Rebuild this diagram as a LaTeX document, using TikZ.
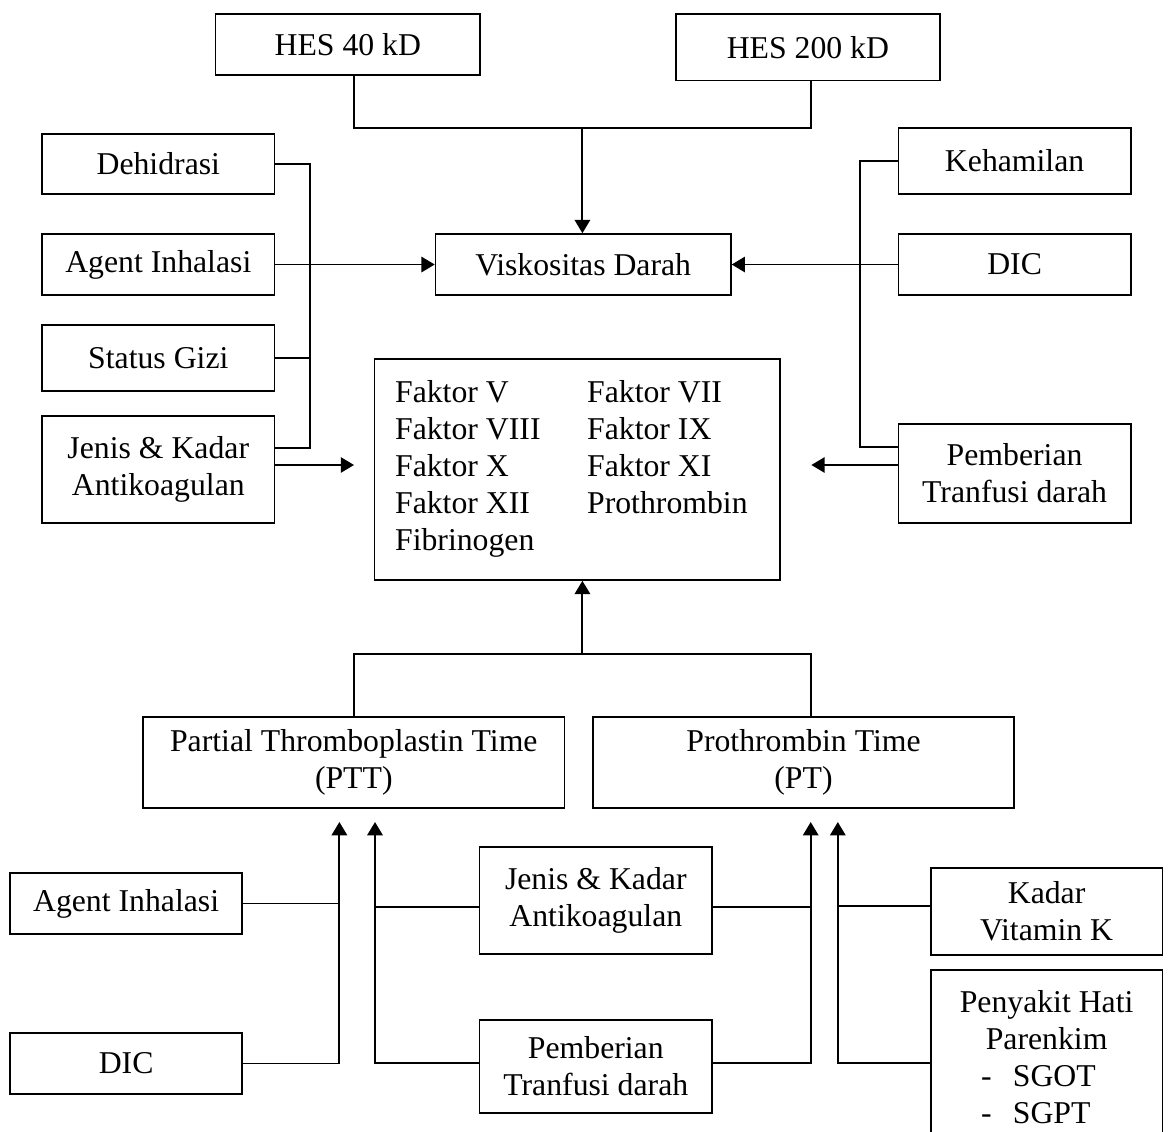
\documentclass[tikz,border=0pt]{standalone}
\usepackage{fontspec}
\setmainfont{Liberation Serif}
\usetikzlibrary{arrows.meta,calc}

\begin{document}
\begin{tikzpicture}
  [x=0.378pt, y=-0.378pt,
   boxN/.style={draw, line width=0.6pt, inner sep=0pt, align=center,
     font=\fontsize{12}{14}\selectfont},
   sz/.style 2 args={minimum width=#1*0.378pt, minimum height=#2*0.378pt},
   conn/.style={line width=0.7pt},
   arr/.style={conn, -{Triangle[length=5pt,width=5.8pt]}}]

  \useasboundingbox (0,0) rectangle (1170,1131);
  \clip (0,0) rectangle (1170,1131);

  % upper part
  \node[boxN,sz={264.8}{60.7}] (hes40)  at (347.8,44.4) {HES 40 kD};
  \node[boxN,sz={263.7}{66.3}] (hes200) at (807.9,47.2) {HES 200 kD};

  \node[boxN,sz={232.3}{60}]  (dehid)  at (158.3,164)   {Dehidrasi};
  \node[boxN,sz={232.3}{61}]  (agent)  at (158.3,264.5) {Agent Inhalasi};
  \node[boxN,sz={232.3}{66}]  (gizi)   at (158.3,358)   {Status Gizi};
  \node[boxN,sz={232.3}{107}] (jenis)  at (158.3,469.5) {Jenis \& Kadar\\Antikoagulan};

  \node[boxN,sz={295.4}{61}]  (visk)   at (583.2,264.5) {Viskositas Darah};

  \node[boxN,sz={232.6}{66}]  (hamil)  at (1014.6,161)   {Kehamilan};
  \node[boxN,sz={232.6}{61}]  (dicR)   at (1014.6,264.5) {DIC};
  \node[boxN,sz={232.6}{99}]  (pembR)  at (1014.6,473.5) {Pemberian\\Tranfusi darah};

  \node[boxN,sz={405.2}{221}] (faktor) at (577.2,469.5)
    {\begin{tabular}{@{}p{72.6pt}@{}l@{\hspace{4.4pt}}}
       Faktor V    & Faktor VII\\
       Faktor VIII & Faktor IX\\
       Faktor X    & Faktor XI\\
       Faktor XII  & Prothrombin\\
       Fibrinogen  &
     \end{tabular}};

  % lower part
  \node[boxN,sz={421.3}{91}]  (ptt)    at (353.8,762.5) {Partial Thromboplastin Time\\(PTT)};
  \node[boxN,sz={420.6}{91}]  (pt)     at (803.5,762.5) {Prothrombin Time\\(PT)};

  \node[boxN,sz={232.3}{61}]  (agentB) at (126.1,903.5)  {Agent Inhalasi};
  \node[boxN,sz={232.3}{61}]  (dicB)   at (126.1,1063.5) {DIC};
  \node[boxN,sz={232.3}{107}] (jenisB) at (595.8,900.5)  {Jenis \& Kadar\\Antikoagulan};
  \node[boxN,sz={232.3}{93}]  (pembB)  at (595.8,1066.5) {Pemberian\\Tranfusi darah};
  \node[boxN,sz={231.8}{87}]  (vitK)   at (1046.6,911.5) {Kadar\\Vitamin K};
  \node[boxN,sz={231.8}{175}] (hati)   at (1046.6,1057.5)
    {Penyakit Hati\\Parenkim\\
     -\hspace{8pt}\makebox[37.5pt][l]{SGOT}\\
     -\hspace{8pt}\makebox[37.5pt][l]{SGPT}};

  % HES -> viskositas
  \coordinate (jtop) at (582.4,128);
  \draw[conn] ($(hes40.south)+(6.5,0)$) |- (jtop) -| ($(hes200.south)+(2.8,0)$);
  \draw[arr] (jtop) -- (jtop |- visk.north);

  % left group
  \coordinate (lbus) at (310,0);
  \coordinate (jl) at ($(jenis.east)+(0,-21.5)$);
  \draw[conn] (dehid.east) -| (lbus |- jl) -- (jl);
  \draw[conn] (gizi.east) -- (gizi.east -| lbus);
  \draw[arr] (agent.east) -- (visk.west);
  \coordinate (fl) at (354,465);
  \draw[arr] (jenis.east |- fl) -- (fl);

  % right group
  \coordinate (rbus) at (860.3,0);
  \coordinate (pr) at ($(pembR.west)+(0,-26.5)$);
  \draw[conn] (hamil.west) -| (rbus |- pr) -- (pr);
  \draw[arr] (dicR.west) -- (visk.east);
  \coordinate (fr) at (811.4,465);
  \draw[arr] (pembR.west |- fr) -- (fr);

  % PTT, PT -> faktor
  \coordinate (jbot) at (582.4,654);
  \draw[conn] (ptt.north) |- (jbot) -| ($(pt.north)+(7.2,0)$);
  \draw[arr] (jbot) -- (jbot |- faktor.south);

  % inputs of PTT and PT
  \coordinate (pttA) at (339.4,822);
  \coordinate (pttB) at (375,822);
  \coordinate (ptA)  at (810.7,822);
  \coordinate (ptB)  at (837.8,822);

  \draw[arr] (dicB.east) -| (pttA);
  \draw[conn] (agentB.east) -- (agentB.east -| pttA);

  \coordinate (jb)  at ($(jenisB.west)+(0,6.5)$);
  \coordinate (jbr) at ($(jenisB.east)+(0,6.5)$);
  \draw[arr] ($(pembB.west)+(0,-3.5)$) -| (pttB);
  \draw[conn] (jb) -- (jb -| pttB);
  \draw[arr] ($(pembB.east)+(0,-3.5)$) -| (ptA);
  \draw[conn] (jbr) -- (jbr -| ptA);

  \coordinate (vk) at ($(vitK.west)+(0,-5.5)$);
  \coordinate (hp) at ($(hati.west)+(0,5.5)$);
  \draw[arr] (hp) -| (ptB);
  \draw[conn] (vk) -- (vk -| ptB);
\end{tikzpicture}
\end{document}
